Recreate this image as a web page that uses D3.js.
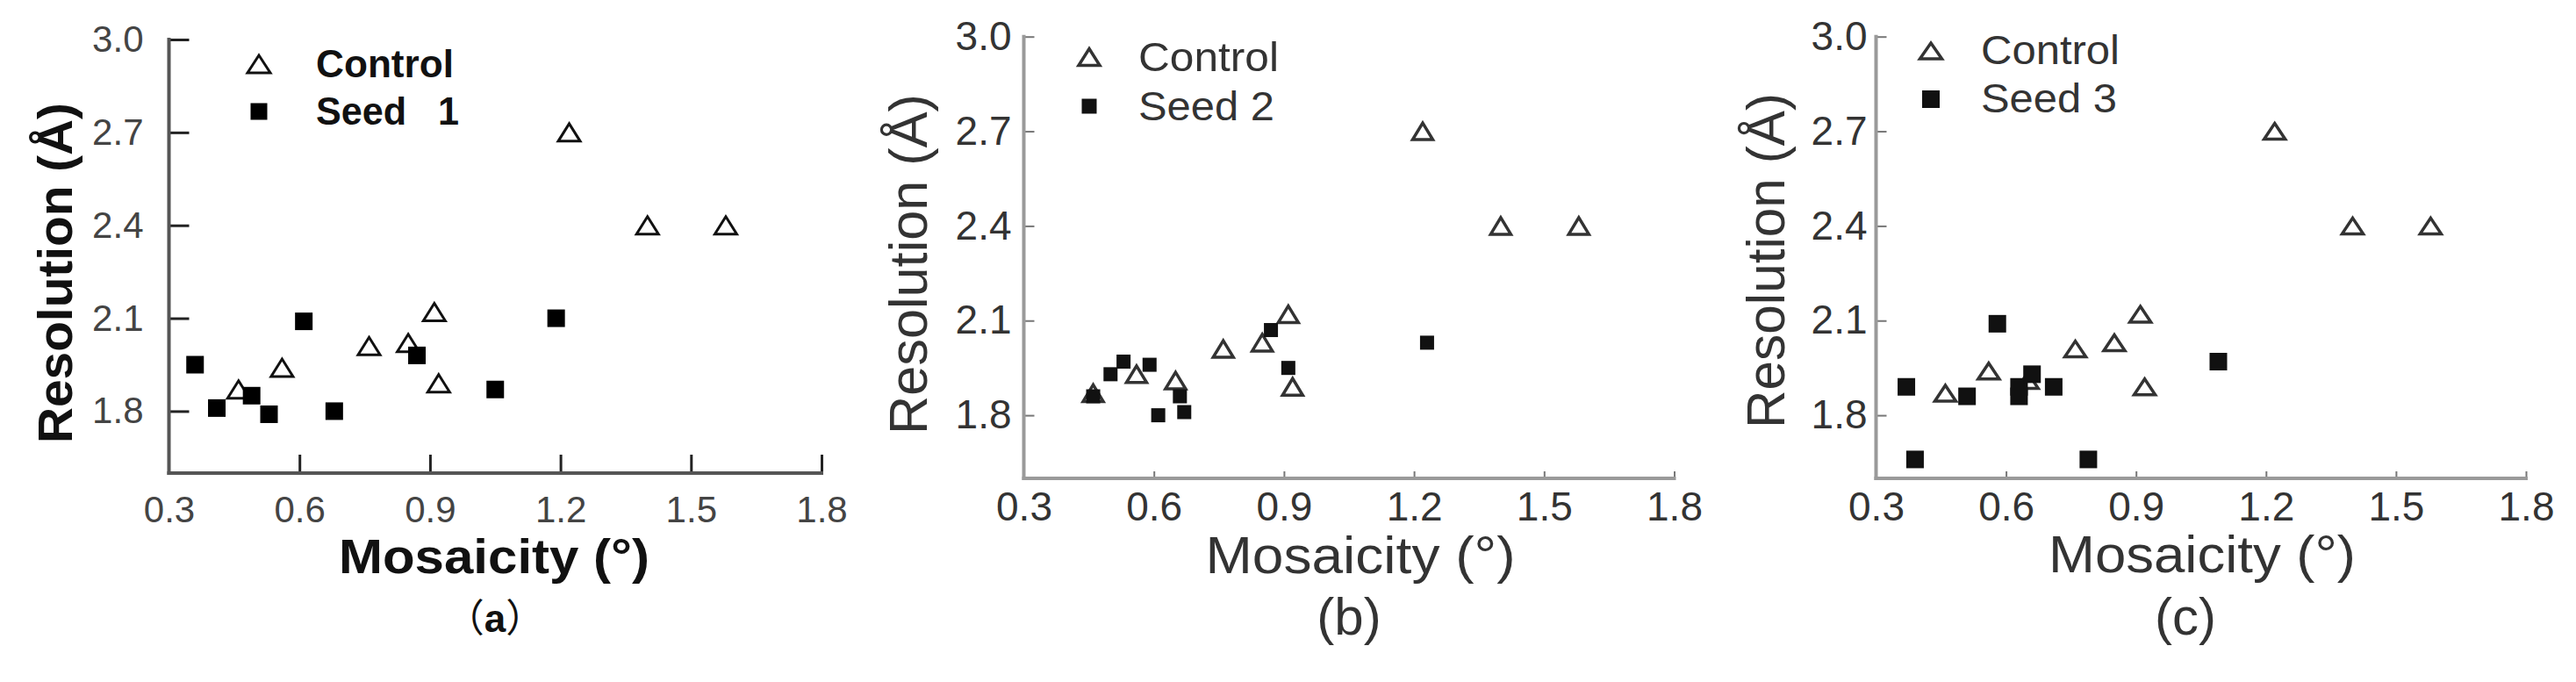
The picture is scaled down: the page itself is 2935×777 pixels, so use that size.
<!DOCTYPE html>
<html>
<head>
<meta charset="utf-8">
<script src="https://cdn.jsdelivr.net/npm/d3@7"></script>
<style>
  html, body { margin: 0; padding: 0; background: #ffffff; }
  svg { display: block; }
  text { font-family: Arial, "Liberation Sans", sans-serif; }
</style>
</head>
<body>
<svg id="chart" width="2935" height="777"></svg>
<script>
// ---------- data ----------
const xTicks = [0.3, 0.6, 0.9, 1.2, 1.5, 1.8];
const yTicks = [1.8, 2.1, 2.4, 2.7, 3.0];
const xDomain = [0.3, 1.8];
const yDomain = [1.6, 3.0];

const controlA = [[0.46,1.87],[0.56,1.94],[0.76,2.01],[0.85,2.02],[0.91,2.12],[0.92,1.89],[1.22,2.70],[1.40,2.40],[1.58,2.40]];
const seed1    = [[0.36,1.95],[0.41,1.81],[0.49,1.85],[0.53,1.79],[0.61,2.09],[0.68,1.80],[0.87,1.98],[1.05,1.87],[1.19,2.10]];

const controlB = [[0.46,1.87],[0.56,1.93],[0.65,1.91],[0.76,2.01],[0.85,2.03],[0.91,2.12],[0.92,1.89],[1.22,2.70],[1.40,2.40],[1.58,2.40]];
const seed2    = [[0.46,1.86],[0.50,1.93],[0.53,1.97],[0.59,1.96],[0.61,1.80],[0.66,1.86],[0.67,1.81],[0.87,2.07],[0.91,1.95],[1.23,2.03]];

const controlC = [[0.46,1.87],[0.56,1.94],[0.65,1.91],[0.76,2.01],[0.85,2.03],[0.91,2.12],[0.92,1.89],[1.22,2.70],[1.40,2.40],[1.58,2.40]];
const seed3    = [[0.37,1.89],[0.39,1.66],[0.51,1.86],[0.58,2.09],[0.63,1.89],[0.63,1.86],[0.66,1.93],[0.71,1.89],[0.79,1.66],[1.09,1.97]];

const legendA = ["Control", "Seed   1"];
const legendB = ["Control", "Seed 2"];
const legendC = ["Control", "Seed 3"];

const xTitle = "Mosaicity (°)";
const yTitle = "Resolution (Å)";

// ---------- drawing ----------
const svg = d3.select("#chart");

function triPath(w, h) {
  return `M0,${-h/2}L${w/2},${h/2}L${-w/2},${h/2}Z`;
}

function drawPanel(cfg) {
  const g = svg.append("g");
  const x = d3.scaleLinear().domain(xDomain).range([cfg.x0, cfg.x1]);
  const y = d3.scaleLinear().domain(yDomain).range([cfg.yb, cfg.yt]);

  // x axis ticks + labels
  const xa = g.append("g").attr("transform", `translate(0,${cfg.yb})`)
    .call(d3.axisBottom(x).tickValues(xTicks).tickFormat(d3.format(".1f"))
      .tickSize(-cfg.xTickLen).tickPadding(cfg.xPad));
  xa.select(".domain").remove();
  xa.selectAll(".tick line").attr("stroke", cfg.tickColor).attr("stroke-width", cfg.tickWidth);
  xa.selectAll(".tick").filter(d => d === 0.3).select("line").remove();
  xa.selectAll(".tick text").attr("fill", cfg.labelColor)
    .style("font-size", cfg.tickFont + "px").style("font-family", "Arial, 'Liberation Sans', sans-serif");

  // y axis ticks + labels
  const ya = g.append("g").attr("transform", `translate(${cfg.x0},0)`)
    .call(d3.axisLeft(y).tickValues(yTicks).tickFormat(d3.format(".1f"))
      .tickSize(-cfg.yTickLen).tickPadding(cfg.yPad));
  ya.select(".domain").remove();
  ya.selectAll(".tick line").attr("stroke", cfg.tickColor).attr("stroke-width", cfg.tickWidth);
  ya.selectAll(".tick text").attr("fill", cfg.labelColor)
    .style("font-size", cfg.tickFont + "px").style("font-family", "Arial, 'Liberation Sans', sans-serif");

  // axis lines
  g.append("line").attr("x1", x(xDomain[0])).attr("x2", x(xDomain[1]))
    .attr("y1", y(yDomain[0])).attr("y2", y(yDomain[0]))
    .attr("stroke", cfg.axisColor).attr("stroke-width", cfg.axisWidth).attr("stroke-linecap", "square");
  g.append("line").attr("x1", x(xDomain[0])).attr("x2", x(xDomain[0]))
    .attr("y1", y(yDomain[0])).attr("y2", y(yDomain[1]))
    .attr("stroke", cfg.axisColor).attr("stroke-width", cfg.axisWidth).attr("stroke-linecap", "square");

  // control triangles
  g.append("g").selectAll("path").data(cfg.control).join("path")
    .attr("d", triPath(cfg.triW, cfg.triH))
    .attr("transform", d => `translate(${x(d[0])},${y(d[1])})`)
    .attr("fill", "#ffffff").attr("stroke", cfg.triStroke)
    .attr("stroke-width", cfg.triSW).attr("stroke-linejoin", "miter");

  // seed squares
  g.append("g").selectAll("rect").data(cfg.seed).join("rect")
    .attr("x", d => x(d[0]) - cfg.sq/2).attr("y", d => y(d[1]) - cfg.sq/2)
    .attr("width", cfg.sq).attr("height", cfg.sq).attr("fill", cfg.sqColor);

  // legend
  const L = cfg.legend;
  g.append("path").attr("d", triPath(L.triW, L.triH))
    .attr("transform", `translate(${L.mx},${L.y1 - L.markOff})`)
    .attr("fill", "#ffffff").attr("stroke", cfg.triStroke).attr("stroke-width", cfg.triSW);
  g.append("rect").attr("x", L.mx - L.sq/2).attr("y", L.y2 - L.markOff - L.sq/2)
    .attr("width", L.sq).attr("height", L.sq).attr("fill", cfg.sqColor);
  g.append("text").attr("x", L.tx).attr("y", L.y1).text(cfg.legendText[0])
    .attr("fill", cfg.textColor).style("font-size", L.font + "px")
    .style("font-weight", cfg.bold ? "bold" : "normal")
    .attr("textLength", L.len1).attr("lengthAdjust", "spacingAndGlyphs");
  g.append("text").attr("x", L.tx).attr("y", L.y2).text(cfg.legendText[1])
    .attr("fill", cfg.textColor).style("font-size", L.font + "px")
    .style("font-weight", cfg.bold ? "bold" : "normal").style("white-space", "pre")
    .attr("textLength", L.len2).attr("lengthAdjust", "spacingAndGlyphs");

  // axis titles
  g.append("text").attr("x", cfg.xt.x).attr("y", cfg.xt.y).attr("text-anchor", "middle")
    .text(xTitle).attr("fill", cfg.textColor).style("font-size", cfg.xt.font + "px")
    .style("font-weight", cfg.bold ? "bold" : "normal")
    .attr("textLength", cfg.xt.len).attr("lengthAdjust", "spacingAndGlyphs");
  g.append("text").attr("transform", `translate(${cfg.yt2.x},${cfg.yt2.y}) rotate(-90)`)
    .attr("text-anchor", "middle")
    .text(yTitle).attr("fill", cfg.textColor).style("font-size", cfg.yt2.font + "px")
    .style("font-weight", cfg.bold ? "bold" : "normal")
    .attr("textLength", cfg.yt2.len).attr("lengthAdjust", "spacingAndGlyphs");

  // panel label
  const pl = g.append("text").attr("x", cfg.pl.x).attr("y", cfg.pl.y).attr("text-anchor", "middle")
    .attr("fill", cfg.textColor).style("font-size", cfg.pl.font + "px");
  if (cfg.pl.cjk) {
    pl.append("tspan").style("font-family", "'Noto Sans CJK SC', sans-serif").text("（");
    pl.append("tspan").style("font-weight", "bold").text(cfg.pl.letter);
    pl.append("tspan").style("font-family", "'Noto Sans CJK SC', sans-serif").text("）");
  } else {
    pl.text("(" + cfg.pl.letter + ")");
  }
}

drawPanel({
  x0: 192.5, x1: 936, yb: 539, yt: 45,
  xTickLen: 21, yTickLen: 23, xPad: 26, yPad: 29, tickFont: 42,
  tickColor: "#222", tickWidth: 3, axisColor: "#555", axisWidth: 4,
  labelColor: "#444", textColor: "#111", bold: true,
  control: controlA, seed: seed1,
  triW: 25, triH: 20, triSW: 3, triStroke: "#111", sq: 20, sqColor: "#000",
  legendText: legendA,
  legend: { mx: 295, tx: 360, y1: 88, y2: 142, markOff: 15, triW: 26, triH: 20, sq: 19, font: 44, len1: 157, len2: 163 },
  xt: { x: 563, y: 653, font: 56, len: 354 },
  yt2: { x: 82, y: 311, font: 56, len: 388 },
  pl: { x: 564, y: 720, font: 44, letter: "a", cjk: true }
});

drawPanel({
  x0: 1166.5, x1: 1907.5, yb: 545, yt: 41.7,
  xTickLen: 8, yTickLen: 12, xPad: 15, yPad: 14, tickFont: 46,
  tickColor: "#777", tickWidth: 2, axisColor: "#9a9a9a", axisWidth: 4,
  labelColor: "#333", textColor: "#333", bold: false,
  control: controlB, seed: seed2,
  triW: 23, triH: 19, triSW: 3.5, triStroke: "#333", sq: 16, sqColor: "#111",
  legendText: legendB,
  legend: { mx: 1241, tx: 1297, y1: 81, y2: 137, markOff: 16, triW: 24, triH: 19, sq: 17, font: 47, len1: 160, len2: 155 },
  xt: { x: 1550, y: 653, font: 60, len: 353 },
  yt2: { x: 1056, y: 301, font: 62, len: 388 },
  pl: { x: 1537, y: 723, font: 60, letter: "b", cjk: false }
});

drawPanel({
  x0: 2137.5, x1: 2878, yb: 545, yt: 41.7,
  xTickLen: 8, yTickLen: 12, xPad: 15, yPad: 10, tickFont: 46,
  tickColor: "#777", tickWidth: 2, axisColor: "#9a9a9a", axisWidth: 4,
  labelColor: "#333", textColor: "#333", bold: false,
  control: controlC, seed: seed3,
  triW: 24, triH: 18, triSW: 3.5, triStroke: "#333", sq: 20, sqColor: "#111",
  legendText: legendC,
  legend: { mx: 2200, tx: 2257, y1: 73, y2: 128, markOff: 15, triW: 25, triH: 18, sq: 20, font: 47, len1: 158, len2: 155 },
  xt: { x: 2509, y: 652, font: 60, len: 350 },
  yt2: { x: 2033, y: 297, font: 62, len: 382 },
  pl: { x: 2490, y: 723, font: 60, letter: "c", cjk: false }
});
</script>
</body>
</html>
